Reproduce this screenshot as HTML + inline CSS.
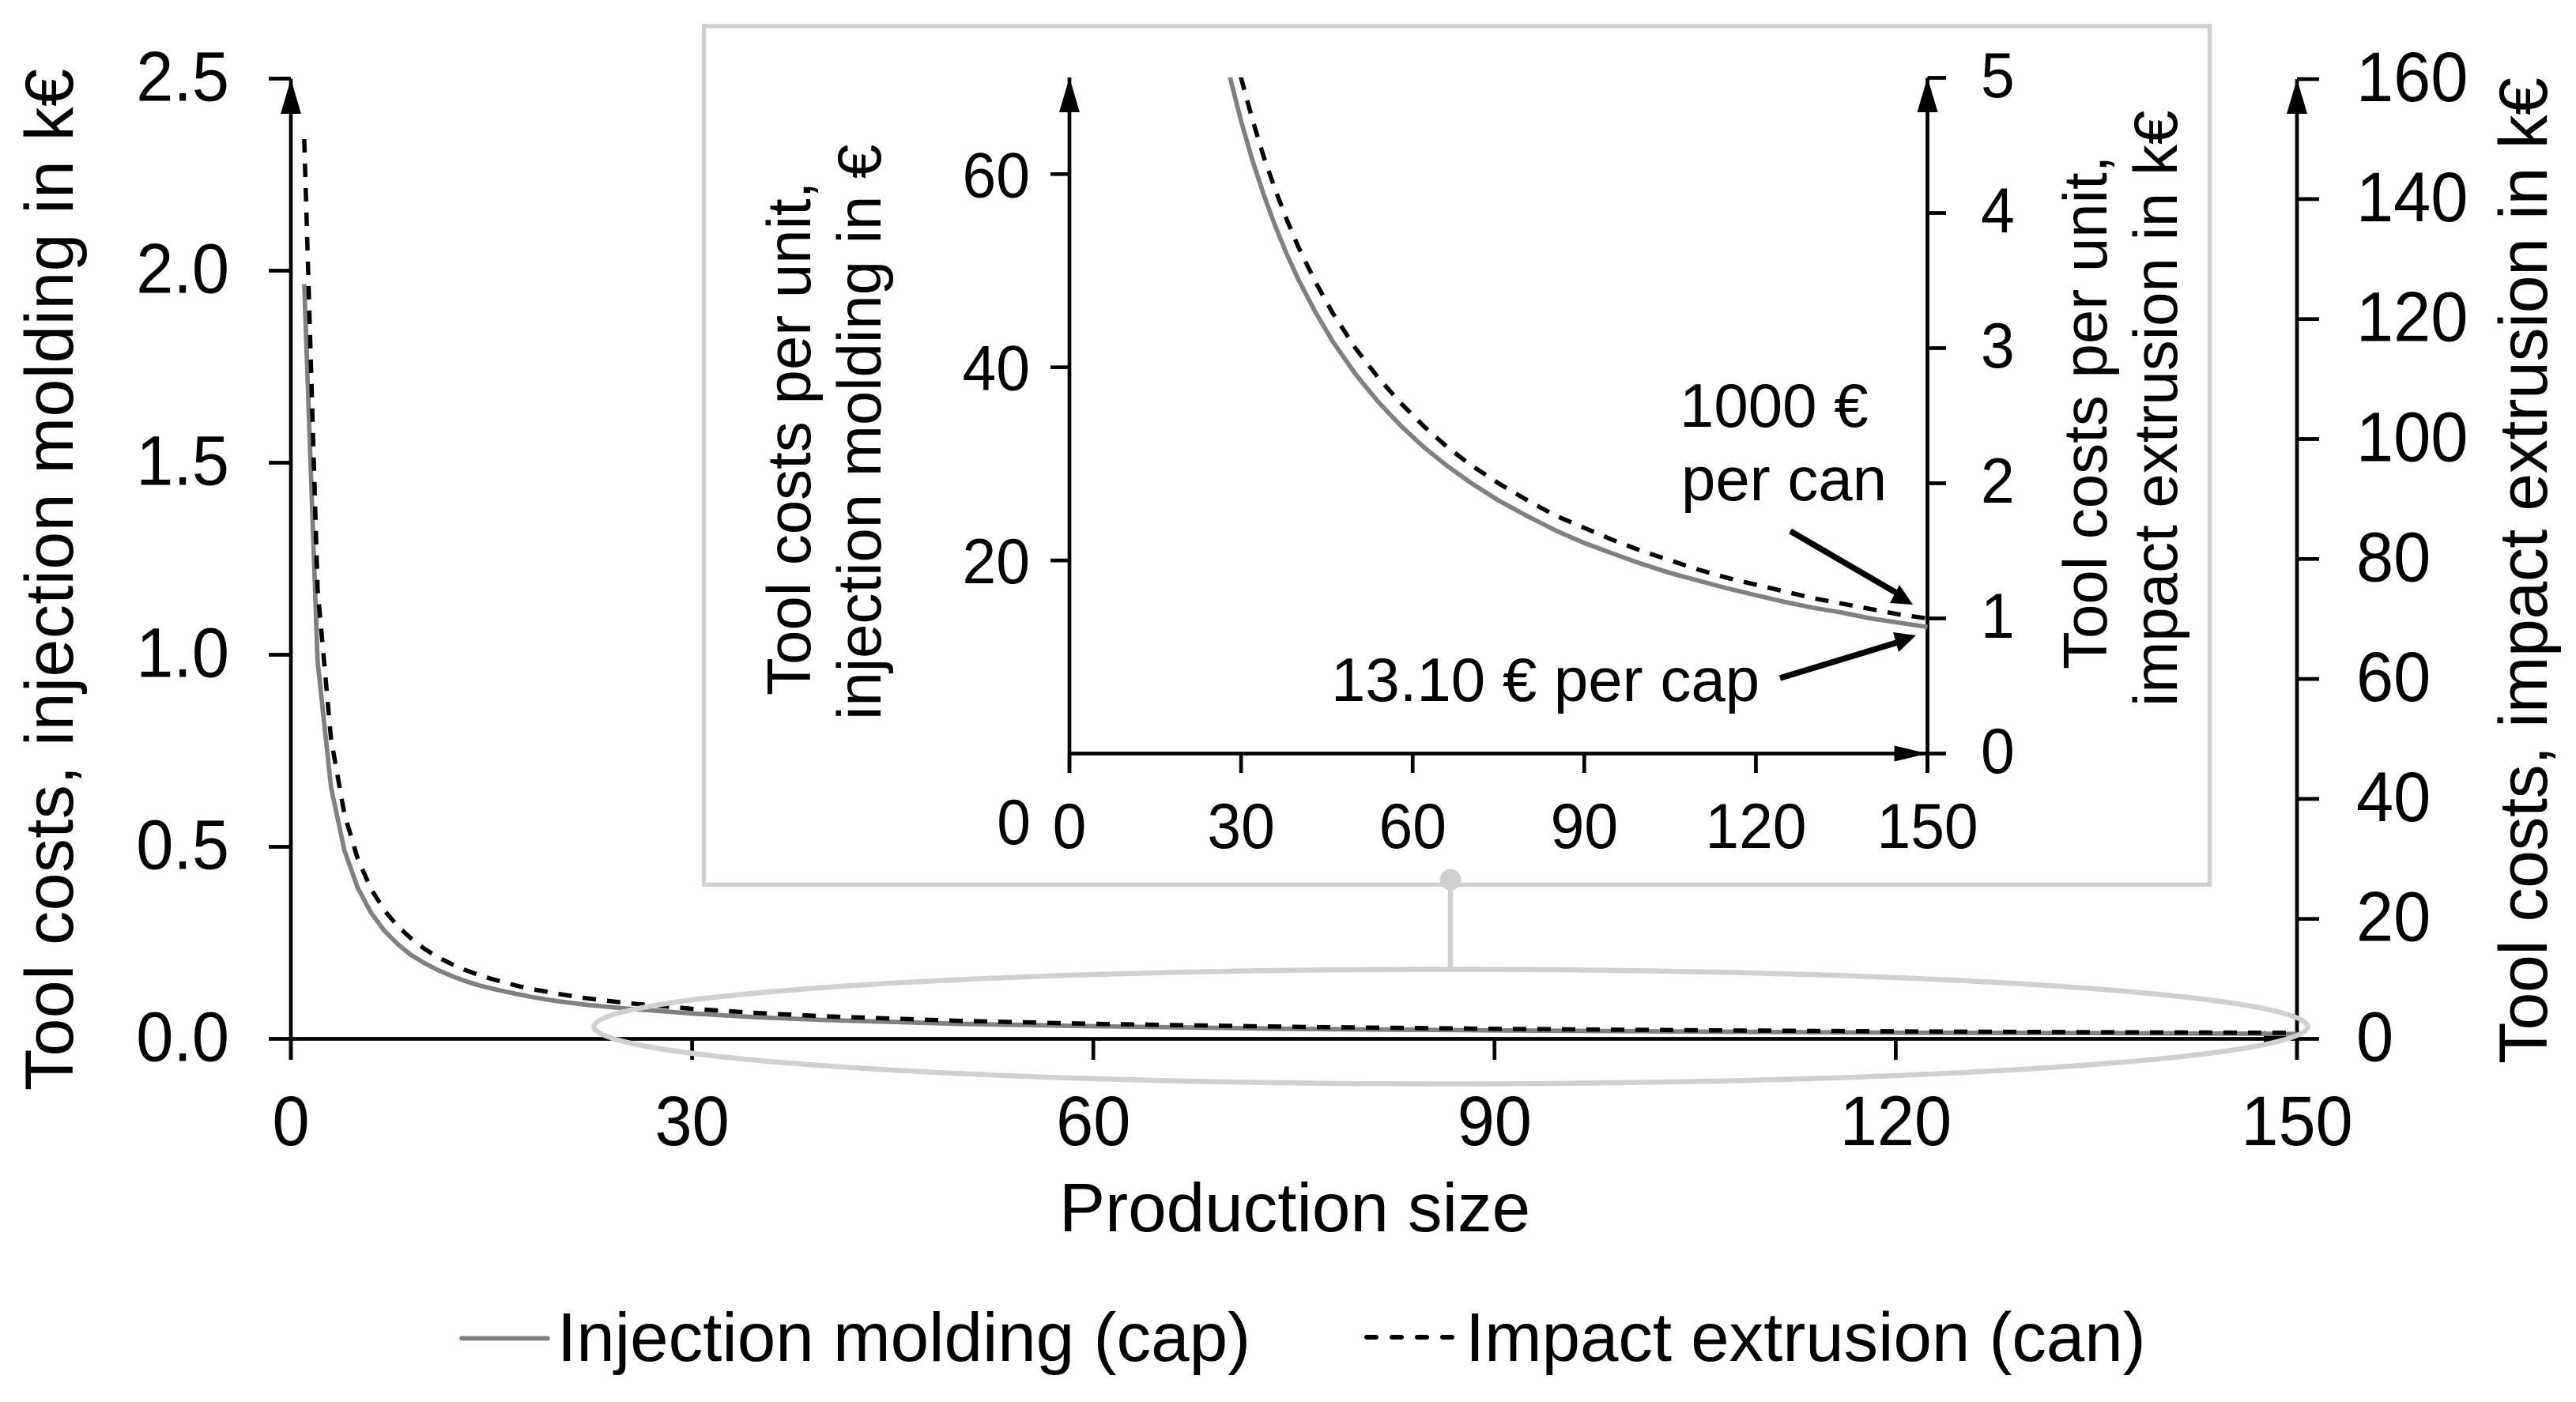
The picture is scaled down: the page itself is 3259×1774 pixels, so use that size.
<!DOCTYPE html>
<html lang="en">
<head>
<meta charset="utf-8">
<title>Tool costs vs production size</title>
<style>
html,body{margin:0;padding:0;background:#fff;}
svg{display:block;}
text{font-family:"Liberation Sans",Arial,sans-serif;fill:#000;}
</style>
</head>
<body>
<svg id="chart" xmlns="http://www.w3.org/2000/svg" width="3259" height="1774" viewBox="0 0 3259 1774">
  <defs>
    <clipPath id="inset-clip"><rect x="1353" y="98" width="1090" height="860"/></clipPath>
  </defs>
  <rect x="0" y="0" width="3259" height="1774" fill="#fff"/>
  <rect x="890.5" y="33" width="1905" height="1086.5" fill="#fff" stroke="#d0d0d0" stroke-width="5.5"/>
  <g id="main-layer"></g>
  <g id="inset-layer"></g>
  <text transform="translate(92,1380) rotate(-90)" font-size="86" textLength="1293" lengthAdjust="spacing">Tool costs, injection molding in k€</text>
  <text transform="translate(3222,1346) rotate(-90)" font-size="86" textLength="1248" lengthAdjust="spacing">Tool costs, impact extrusion in k€</text>
  <text x="1340" y="1558" font-size="87.2">Production size</text>
  <text transform="translate(1025,880) rotate(-90)" font-size="78">Tool costs per unit,</text>
  <text transform="translate(1114,911) rotate(-90)" font-size="78">injection molding in €</text>
  <text transform="translate(2665,847) rotate(-90)" font-size="78">Tool costs per unit,</text>
  <text transform="translate(2754,894) rotate(-90)" font-size="78">impact extrusion in k€</text>
  <text x="2125" y="540" font-size="78">1000 €</text>
  <text x="2127" y="633" font-size="78">per can</text>
  <text x="1684" y="887" font-size="78">13.10 € per cap</text>
  <g>
    <line x1="2265" y1="672" x2="2399" y2="750" stroke="#000" stroke-width="7.5"/>
    <polygon points="2420,765 2391,763 2403,740" fill="#000"/>
  </g>
  <g>
    <line x1="2252" y1="858" x2="2400" y2="813" stroke="#000" stroke-width="7.5"/>
    <polygon points="2424,804 2395,800 2402,825" fill="#000"/>
  </g>
  <g>
    <line x1="584" y1="1693.5" x2="693" y2="1693.5" stroke="#808080" stroke-width="5.7" stroke-linecap="round"/>
    <text x="705" y="1722" font-size="87.2">Injection molding (cap)</text>
    <line x1="1729" y1="1692" x2="1837" y2="1692" stroke="#000" stroke-width="6" stroke-linecap="round" stroke-dasharray="12 20"/>
    <text x="1854" y="1722" font-size="87">Impact extrusion (can)</text>
  </g>
  <g id="overlay-layer">
    <line x1="1835" y1="1113" x2="1835" y2="1226" stroke="#d0d0d0" stroke-width="6.5"/>
    <circle cx="1835" cy="1113" r="13.5" fill="#d0d0d0"/>
    <ellipse cx="1835.5" cy="1299" rx="1084" ry="72.5" fill="none" stroke="#d0d0d0" stroke-width="6.5"/>
  </g>
</svg>
<script>
const productionSizes = [1,2,3,4,5,6,7,8,9,10,11,12,13,14,15,16,17,18,19,20,22,25,30,35,40,50,60,75,90,105,120,135,150];
const injectionKEuro = [1.965,0.983,0.655,0.491,0.393,0.328,0.281,0.246,0.218,0.197,0.179,0.164,0.151,0.140,0.131,0.123,0.116,0.109,0.103,0.098,0.089,0.079,0.066,0.056,0.049,0.039,0.033,0.026,0.022,0.019,0.016,0.015,0.013];
const extrusionKEuro = [150,75,50,37.5,30,25,21.4,18.75,16.7,15,13.6,12.5,11.5,10.7,10,9.4,8.8,8.3,7.9,7.5,6.8,6,5,4.3,3.75,3,2.5,2,1.67,1.43,1.25,1.11,1];
const insetSizes = [28,30,32,34,36,38,40,43,46,50,54,58,62,66,70,75,80,85,90,95,100,105,110,115,120,125,130,135,140,145,150];
const insetInjectionEuro = [70.2,65.5,61.4,57.8,54.6,51.7,49.1,45.7,42.7,39.3,36.4,33.9,31.7,29.8,28.1,26.2,24.6,23.1,21.8,20.7,19.65,18.7,17.9,17.1,16.4,15.7,15.1,14.6,14.0,13.55,13.1];
const insetExtrusionKEuro = [5.36,5.0,4.69,4.41,4.17,3.95,3.75,3.49,3.26,3.0,2.78,2.59,2.42,2.27,2.14,2.0,1.875,1.76,1.67,1.58,1.5,1.43,1.36,1.30,1.25,1.2,1.15,1.11,1.07,1.03,1.0];
const mainXTicks = [0,30,60,90,120,150];
const mainLeftTicks = [0,0.5,1,1.5,2,2.5];
const mainLeftLabels = ["0.0","0.5","1.0","1.5","2.0","2.5"];
const mainRightTicks = [0,20,40,60,80,100,120,140,160];
const insetXTicks = [0,30,60,90,120,150];
const insetLeftTicks = [20,40,60];
const insetRightTicks = [0,1,2,3,4,5];

const NS = "http://www.w3.org/2000/svg";
const mainLayer = document.getElementById("main-layer");
const insetLayer = document.getElementById("inset-layer");

const xMain = v => 368 + v * 16.92;
const yMainLeft = v => 1314.5 - v * 486;
const yMainRight = v => 1314.5 - v * 7.59;
const xInset = v => 1353 + v * 7.237;
const yInsetLeft = v => 953.5 - v * 12.22;
const yInsetRight = v => 953.5 - v * 171;

function make(tag, attrs, parent) {
  const el = document.createElementNS(NS, tag);
  for (const k in attrs) el.setAttribute(k, attrs[k]);
  parent.appendChild(el);
  return el;
}
function seg(x1, y1, x2, y2, parent) {
  return make("line", {x1, y1, x2, y2, stroke: "#000", "stroke-width": 4.7}, parent);
}
function label(str, x, y, size, anchor, parent) {
  const el = make("text", {transform: `translate(${x},${y}) scale(0.985,1.035)`, "font-size": size, "text-anchor": anchor}, parent);
  el.textContent = str;
  return el;
}
function polyPoints(xs, ys, fx, fy) {
  return xs.map((x, i) => fx(x).toFixed(1) + "," + fy(ys[i]).toFixed(1)).join(" ");
}
function arrowUp(x, tip, parent) {
  return make("polygon", {points: `${x},${tip} ${x-13},${tip+44} ${x+13},${tip+44}`, fill: "#000"}, parent);
}
function arrowRight(tip, y, parent) {
  return make("polygon", {points: `${tip},${y} ${tip-42},${y-10} ${tip-42},${y+10}`, fill: "#000"}, parent);
}

/* ---- main plot ---- */
let el;
el = seg(xMain(0), yMainLeft(2.5), xMain(0), 1341, mainLayer);


el = arrowUp(xMain(0), 100, mainLayer);


el = seg(xMain(150), yMainRight(160), xMain(150), 1341, mainLayer);


el = arrowUp(xMain(150), 100, mainLayer);


el = seg(xMain(0), yMainLeft(0), xMain(150), yMainLeft(0), mainLayer);


el = arrowRight(xMain(150), yMainLeft(0), mainLayer);



mainXTicks.forEach(v => {
  let t = seg(xMain(v), yMainLeft(0), xMain(v), 1341, mainLayer);
  
  
  let l = label(String(v), xMain(v), 1449, 86, "middle", mainLayer);
  
  
});
mainLeftTicks.forEach((v, i) => {
  let t = seg(340, yMainLeft(v), xMain(0), yMainLeft(v), mainLayer);
  
  
  let l = label(mainLeftLabels[i], 290, yMainLeft(v) + 28, 86, "end", mainLayer);
  
  
});
mainRightTicks.forEach(v => {
  let t = seg(xMain(150), yMainRight(v), 2934, yMainRight(v), mainLayer);
  
  
  let l = label(String(v), 2981, yMainRight(v) + 28, 86, "start", mainLayer);
  
  
});

el = make("polyline", {points: polyPoints(productionSizes, injectionKEuro, xMain, yMainLeft), fill: "none", stroke: "#808080", "stroke-width": 5.7, "stroke-linejoin": "round"}, mainLayer);


el = make("polyline", {points: polyPoints(productionSizes, extrusionKEuro, xMain, yMainRight), fill: "none", stroke: "#000", "stroke-width": 5.5, "stroke-dasharray": "17 14", "stroke-linejoin": "round"}, mainLayer);



/* ---- inset plot ---- */
el = seg(xInset(0), yInsetLeft(70), xInset(0), 978, insetLayer);


el = arrowUp(xInset(0), 98, insetLayer);


el = seg(xInset(150), yInsetRight(5), xInset(150), 978, insetLayer);


el = arrowUp(xInset(150), 98, insetLayer);


el = seg(xInset(0), yInsetLeft(0), xInset(150), yInsetLeft(0), insetLayer);


el = arrowRight(xInset(150), yInsetLeft(0), insetLayer);



insetXTicks.forEach(v => {
  let t = seg(xInset(v), yInsetLeft(0), xInset(v), 978, insetLayer);
  
  
  let l = label(String(v), xInset(v), 1073, 78, "middle", insetLayer);
  
  
});
insetLeftTicks.forEach(v => {
  let t = seg(1329, yInsetLeft(v), xInset(0), yInsetLeft(v), insetLayer);
  
  
  let l = label(String(v), 1303, yInsetLeft(v) + 29, 78, "end", insetLayer);
  
  
});
el = label("0", 1304, 1068, 78, "end", insetLayer);


insetRightTicks.forEach(v => {
  let t = seg(xInset(150), yInsetRight(v), 2462, yInsetRight(v), insetLayer);
  
  
  let l = label(String(v), 2506, yInsetRight(v) + 24.5, 78, "start", insetLayer);
  
  
});

el = make("polyline", {points: polyPoints(insetSizes, insetInjectionEuro, xInset, yInsetLeft), fill: "none", stroke: "#808080", "stroke-width": 5.7, "stroke-linejoin": "round", "clip-path": "url(#inset-clip)"}, insetLayer);


el = make("polyline", {points: polyPoints(insetSizes, insetExtrusionKEuro, xInset, yInsetRight), fill: "none", stroke: "#000", "stroke-width": 5.5, "stroke-dasharray": "17 14", "stroke-linejoin": "round", "clip-path": "url(#inset-clip)"}, insetLayer);


</script>
</body>
</html>
